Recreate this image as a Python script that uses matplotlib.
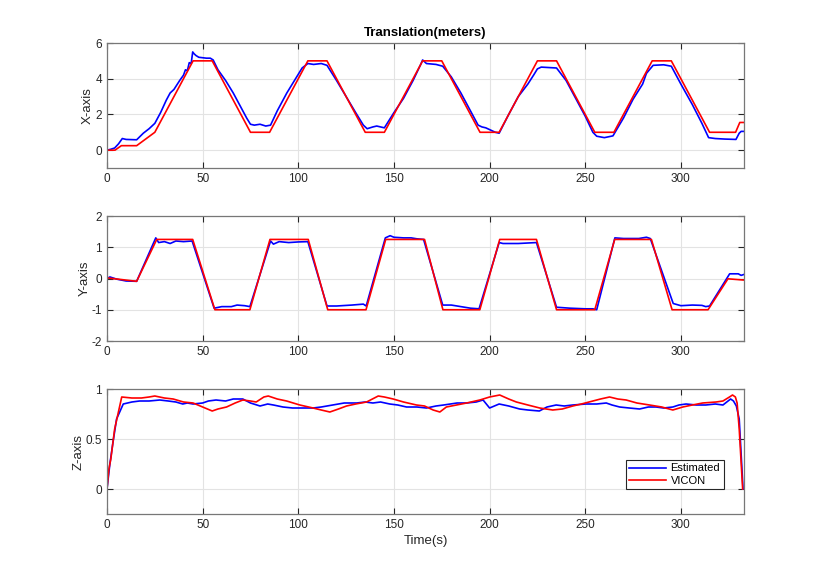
import matplotlib
matplotlib.use("Agg")
import matplotlib.pyplot as plt

plt.rcParams['font.family'] = ['Liberation Sans', 'DejaVu Sans']

# ---- data (time in s, positions in m) ----
x_vicon_t = [0, 4.2, 7.5, 15.5, 25, 45, 55, 75, 85, 105, 115, 135, 145, 165, 175, 195, 205, 225, 235,
             255, 265, 285, 295, 315, 328.6, 330.8, 333]
x_vicon_v = [0, 0, 0.25, 0.25, 1.0, 5, 5, 1, 1, 5, 5, 1, 1, 5, 5, 1, 1, 5, 5,
             1, 1, 5, 5, 1, 1, 1.55, 1.55]

x_est_t = [0, 2, 4, 6, 8, 10, 15.5, 19, 22, 25, 28, 31, 33, 35, 38, 40, 41, 42, 43, 44, 44.8, 45.5, 46.5,
           48, 52, 54, 55.5, 58, 62, 66, 69, 71, 73, 75, 77, 80, 83, 85.5, 89, 94, 98, 102, 105, 108,
           112, 115, 120, 125, 130, 134, 136, 139, 141, 145, 150, 155, 160, 164, 165, 167, 172, 175.5,
           180, 185, 190, 194, 196, 198, 200, 203, 205, 210, 215, 220, 223, 225, 227, 235, 240, 245,
           250, 254, 256, 260, 264.5, 270, 275, 280, 282, 285.5, 291, 295, 300, 306, 311, 314.5, 318,
           323, 328.8, 330.5, 331.5, 333]
x_est_v = [0, 0.05, 0.12, 0.35, 0.65, 0.6, 0.58, 0.95, 1.2, 1.5, 2.1, 2.8, 3.2, 3.4, 3.9, 4.2, 4.5, 4.45,
           4.9, 4.85, 5.5, 5.4, 5.3, 5.2, 5.15, 5.15, 5.05, 4.5, 3.9, 3.2, 2.6, 2.2, 1.8, 1.45, 1.4, 1.45,
           1.35, 1.4, 2.2, 3.2, 3.9, 4.6, 4.85, 4.8, 4.85, 4.75, 3.9, 3.0, 2.1, 1.4, 1.2, 1.3, 1.35, 1.25,
           2.1, 2.9, 3.9, 4.8, 5.05, 4.85, 4.8, 4.7, 4.1, 3.2, 2.2, 1.4, 1.3, 1.25, 1.15, 1.0, 0.95, 2.0,
           3.0, 3.7, 4.2, 4.55, 4.65, 4.6, 3.9, 2.9, 1.9, 1.0, 0.78, 0.7, 0.8, 1.8, 2.85, 3.7, 4.3, 4.75,
           4.78, 4.7, 3.7, 2.55, 1.5, 0.7, 0.65, 0.62, 0.6, 0.95, 1.05, 1.05]

y_vicon_t = [0, 15.5, 26, 44.8, 56.4, 74.7, 85.2, 105.2, 115.4, 135.4, 145.7, 166, 175.6, 194.9, 205.3,
             224.5, 235, 255, 265.4, 284.6, 295.4, 314.2, 324.6, 333]
y_vicon_v = [0.02, -0.09, 1.25, 1.25, -1.0, -1.0, 1.25, 1.25, -1.0, -1.0, 1.25, 1.25, -1.0, -1.0, 1.25,
             1.25, -1.0, -1.0, 1.25, 1.25, -1.0, -1.0, -0.01, -0.05]

y_est_t = [0, 1.5, 5, 10, 15.5, 25.5, 27, 30, 33, 36, 40, 44.5, 56, 60, 65, 68, 72, 74.7, 85.5, 87, 90,
           95, 100, 105, 115, 120, 128, 134, 135.5, 145.5, 148, 150, 155, 159, 162, 165.5, 175.5, 180,
           190, 194.5, 205, 207, 215, 224.5, 235, 242, 250, 254, 256, 265.5, 270, 278, 282, 284, 296,
           300, 306, 311, 313, 315, 325.5, 330, 331.5, 333]
y_est_v = [0.0, 0.05, -0.02, -0.08, -0.09, 1.3, 1.15, 1.18, 1.12, 1.2, 1.18, 1.2, -0.95, -0.9, -0.9,
           -0.85, -0.87, -0.9, 1.2, 1.1, 1.18, 1.15, 1.17, 1.18, -0.88, -0.88, -0.85, -0.82, -0.88, 1.3,
           1.37, 1.32, 1.3, 1.3, 1.27, 1.25, -0.85, -0.85, -0.95, -0.97, 1.15, 1.12, 1.12, 1.15, -0.92,
           -0.95, -0.97, -0.97, -1.0, 1.3, 1.28, 1.28, 1.32, 1.28, -0.8, -0.87, -0.85, -0.86, -0.9, -0.88,
           0.15, 0.15, 0.1, 0.13]

z_vicon_t = [0, 1, 2, 4, 7.7, 13, 18, 22, 25, 30, 34.6, 40, 45, 50, 55, 58, 62.5, 67, 71, 75, 78, 82,
             84.3, 89, 93.9, 100.8, 107.7, 112, 116.5, 121, 125.2, 130, 135.7, 141.8, 145, 149.6, 155,
             161.8, 166, 170.5, 174, 177.4, 182.7, 188, 194.9, 200, 205.3, 210, 214, 220, 226.2, 233,
             238, 243.5, 248, 254, 258, 262.7, 267, 271.4, 277, 283.6, 290, 295.8, 301, 306, 311.4,
             318.4, 322, 325.4, 327, 328.5, 329.4, 330.5, 332.3]
z_vicon_v = [0, 0.2, 0.3, 0.6, 0.92, 0.91, 0.91, 0.92, 0.93, 0.91, 0.9, 0.87, 0.86, 0.82, 0.78, 0.8,
             0.82, 0.86, 0.89, 0.88, 0.87, 0.92, 0.93, 0.9, 0.88, 0.84, 0.81, 0.79, 0.77, 0.8, 0.83,
             0.85, 0.87, 0.93, 0.92, 0.9, 0.87, 0.84, 0.83, 0.79, 0.77, 0.82, 0.84, 0.86, 0.89, 0.92,
             0.94, 0.9, 0.87, 0.84, 0.81, 0.79, 0.8, 0.83, 0.85, 0.88, 0.9, 0.92, 0.9, 0.89, 0.86,
             0.84, 0.82, 0.79, 0.82, 0.84, 0.86, 0.87, 0.88, 0.92, 0.94, 0.92, 0.86, 0.6, 0.0]

z_est_t = [0, 1.5, 3, 5, 8.5, 13, 17, 22, 27.6, 32, 36, 39.6, 42, 45, 50, 53, 57, 62, 66, 71, 75, 80,
           84, 87, 92, 97, 102, 107.7, 112, 118, 124, 130.5, 135, 139, 143, 147.8, 152, 156.6, 162,
           167, 172, 176, 183, 188, 193, 196.6, 200, 205, 210, 215.7, 220, 226, 230, 234.8, 239,
           243.5, 250.4, 256, 261, 264, 268, 273, 278.4, 283, 287, 291, 295.8, 299, 302.7, 308, 313,
           318, 322, 326, 327.5, 329, 330.5, 332.5]
z_est_v = [0, 0.25, 0.45, 0.7, 0.85, 0.87, 0.88, 0.88, 0.89, 0.88, 0.87, 0.85, 0.86, 0.85, 0.86,
           0.88, 0.89, 0.88, 0.9, 0.9, 0.86, 0.83, 0.85, 0.84, 0.82, 0.81, 0.81, 0.81, 0.82, 0.84,
           0.86, 0.86, 0.87, 0.86, 0.87, 0.85, 0.84, 0.82, 0.82, 0.81, 0.83, 0.84, 0.86, 0.86, 0.87,
           0.89, 0.81, 0.85, 0.83, 0.8, 0.79, 0.78, 0.82, 0.84, 0.83, 0.84, 0.85, 0.85, 0.86, 0.84,
           0.82, 0.81, 0.8, 0.82, 0.82, 0.81, 0.82, 0.84, 0.85, 0.84, 0.84, 0.85, 0.84, 0.9, 0.88,
           0.83, 0.7, 0.0]

panels = [
    ("X-axis", x_est_t, x_est_v, x_vicon_t, x_vicon_v, (-1, 6), [0, 2, 4, 6]),
    ("Y-axis", y_est_t, y_est_v, y_vicon_t, y_vicon_v, (-2, 2), [-2, -1, 0, 1, 2]),
    ("Z-axis", z_est_t, z_est_v, z_vicon_t, z_vicon_v, (-0.25, 1), [0, 0.5, 1]),
]
xticks = [0, 50, 100, 150, 200, 250, 300]
ytick_labels = {
    "X-axis": ["0", "2", "4", "6"],
    "Y-axis": ["-2", "-1", "0", "1", "2"],
    "Z-axis": ["0", "0.5", "1"],
}

W, H = 822, 578
fig = plt.figure(figsize=(W / 100, H / 100), dpi=100)
left, right = 107, 744
tops = [43, 216, 389]
ph = 125
axes = []
for (label, et, ev, vt, vv, ylim, yt), top in zip(panels, tops):
    ax = fig.add_axes([left / W, 1 - (top + ph) / H, (right - left) / W, ph / H])
    ax.plot(et, ev, color='#0000ff', lw=1.2, label='Estimated')
    ax.plot(vt, vv, color='#ff0000', lw=1.2, label='VICON')
    ax.set_xlim(0, 333)
    ax.set_ylim(*ylim)
    ax.set_xticks(xticks)
    ax.set_yticks(yt)
    ax.set_yticklabels(ytick_labels[label])
    ax.grid(True, color='#e3e3e3', lw=0.8)
    ax.set_axisbelow(True)
    ax.tick_params(direction='in', top=True, right=True, length=4, width=0.8,
                   color='#262626', labelcolor='#262626', labelsize=8.5)
    for s in ax.spines.values():
        s.set_color('#777777')
        s.set_linewidth(0.9)
    ax.set_ylabel(label, fontsize=9.5, color='#262626', labelpad=1)
    axes.append(ax)

axes[0].set_title("Translation(meters)", fontsize=9.5, fontweight='bold', color='#000000', pad=5)
axes[2].set_xlabel("Time(s)", fontsize=9.5, color='#262626', labelpad=3)
leg = axes[2].legend(loc='lower left', bbox_to_anchor=(0.815, 0.2), fontsize=8, fancybox=False,
                     framealpha=1, edgecolor='#262626', handlelength=3.3, borderpad=0.3,
                     labelspacing=0.2, handletextpad=0.4, borderaxespad=0)
leg.get_frame().set_linewidth(0.8)

fig.savefig("out.png", dpi=100)
